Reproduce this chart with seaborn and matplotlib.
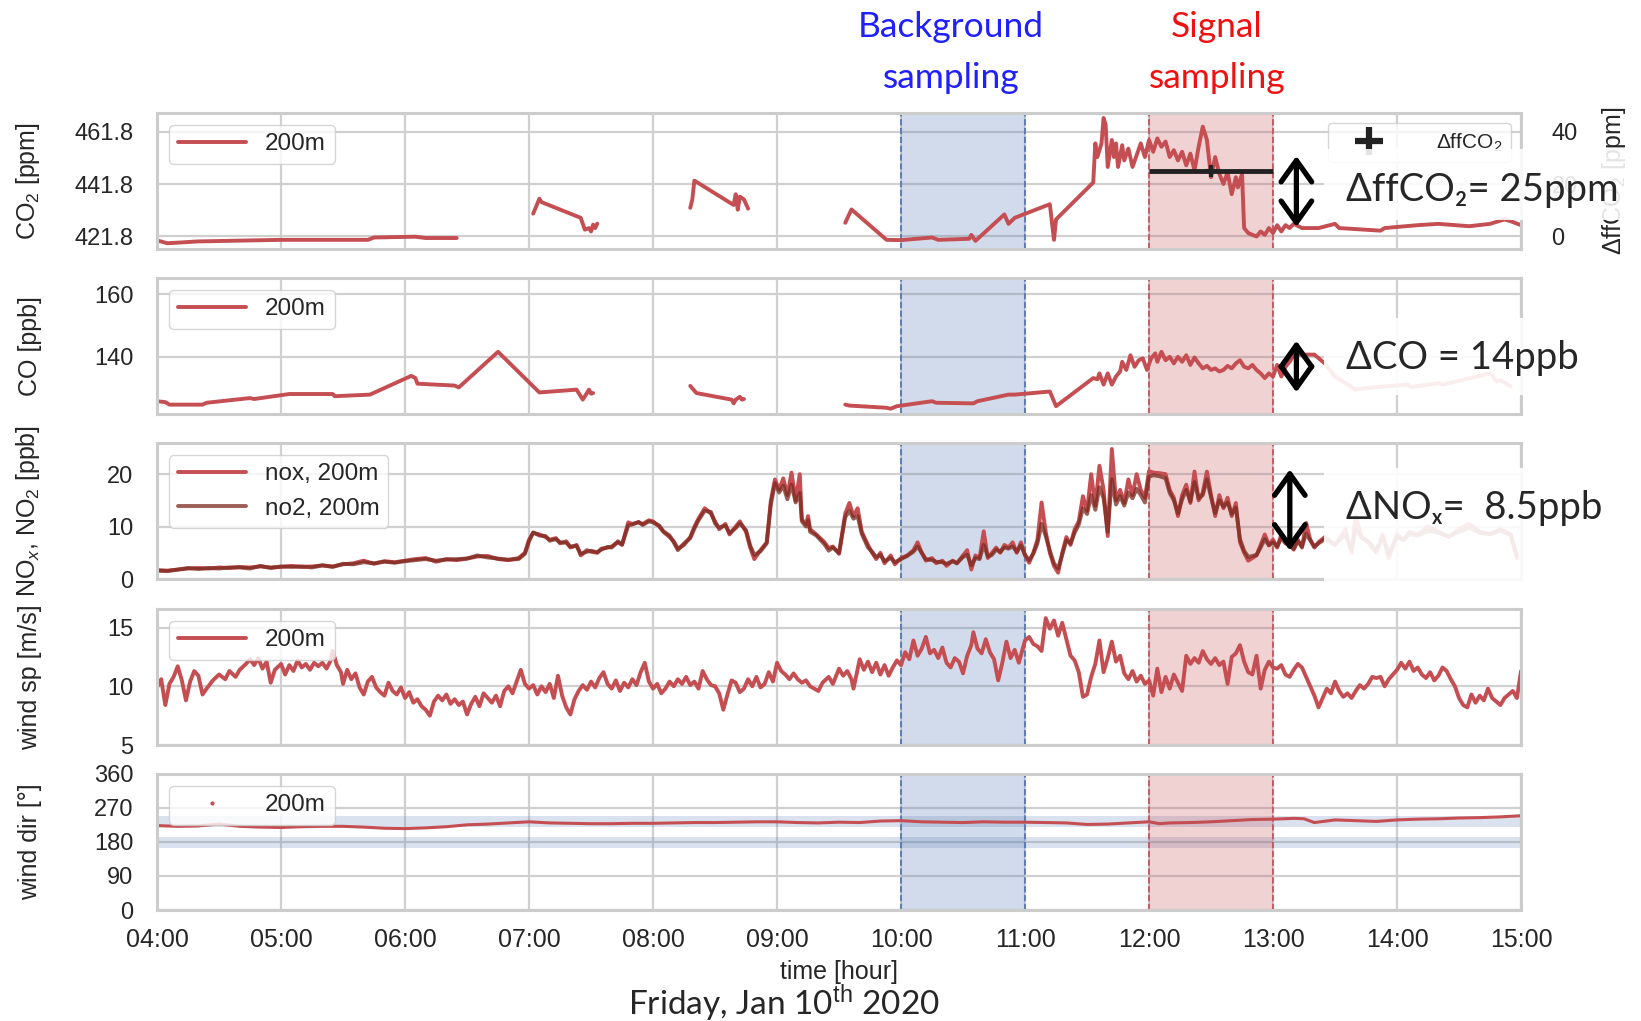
import numpy as np
import pandas as pd
import seaborn as sns
import matplotlib.pyplot as plt
import matplotlib.dates as mdates
from matplotlib.lines import Line2D
from matplotlib.patches import Rectangle, FancyArrowPatch

DAY = "2020-01-10 "
NAN = np.nan

# CO2 [ppm] (nan = gap)
co2_time = ["04:00", "04:05", "04:20", "05:00", "05:25", "05:42", "05:45", "06:05", "06:10", "06:25",
            "06:40",
            "07:02", "07:05", "07:06", "07:25", "07:27", "07:29", "07:30", "07:31", "07:32", "07:33",
            "08:00",
            "08:18", "08:19", "08:20", "08:39", "08:40", "08:41", "08:42", "08:44", "08:46",
            "09:10",
            "09:33", "09:36", "09:53", "10:00", "10:15", "10:18", "10:33", "10:34", "10:36", "10:50",
            "10:52", "10:55", "11:12", "11:14", "11:15", "11:33", "11:34", "11:35", "11:37", "11:38",
            "11:39", "11:40", "11:42", "11:43", "11:44", "11:45", "11:47", "11:48", "11:50", "11:52",
            "11:54", "11:56", "11:58", "12:00", "12:02", "12:04", "12:06", "12:08", "12:10", "12:12",
            "12:14", "12:16", "12:18", "12:20", "12:22", "12:24", "12:26", "12:28", "12:30", "12:32",
            "12:34", "12:36", "12:38", "12:40", "12:42", "12:43", "12:45", "12:46", "12:48", "12:50",
            "12:52", "12:54", "12:56", "12:58", "13:00", "13:02", "13:04", "13:06", "13:08", "13:10",
            "13:14", "13:22", "13:30", "13:32", "13:52", "13:54", "14:10", "14:20", "14:35", "14:45",
            "14:52", "14:55", "15:00"]
co2_val = [420.3, 419.2, 419.9, 420.5, 420.5, 420.5, 421.4, 421.7, 421.2, 421.2,
           NAN,
           430.5, 436.2, 434.9, 428.9, 424.4, 425.0, 423.7, 426.3, 425.0, 426.7,
           NAN,
           432.7, 435.9, 443.1, 433.8, 437.9, 432.0, 437.0, 435.9, 432.4,
           NAN,
           427.0, 432.1, 420.5, 420.4, 421.4, 420.5, 420.9, 422.4, 420.1, 430.2,
           426.6, 428.9, 434.1, 420.5, 428.3, 442.4, 457.3, 452.1, 457.3, 467.0,
           464.4, 448.3, 458.6, 452.1, 457.3, 448.3, 456.6, 450.8, 455.3, 448.3,
           452.8, 457.3, 452.1, 458.6, 454.1, 459.2, 456.0, 458.0, 452.1, 454.7,
           450.8, 454.1, 448.9, 453.4, 447.0, 456.0, 463.7, 458.6, 444.4, 452.1,
           445.7, 441.8, 446.3, 437.9, 444.4, 440.5, 445.7, 425.0, 423.1, 422.4,
           421.8, 423.7, 422.4, 425.0, 423.1, 426.1, 423.7, 426.1, 425.0, 426.6,
           425.0, 425.0, 426.6, 425.0, 424.0, 425.0, 426.1, 426.6, 425.7, 426.6,
           428.3, 427.6, 426.1]

# CO [ppb]
co_time = ["04:00", "04:04", "04:06", "04:22", "04:24", "04:45", "04:47", "05:04", "05:25", "05:26",
           "05:43", "06:03", "06:05", "06:06", "06:24", "06:26", "06:45", "07:05", "07:23", "07:26",
           "07:28", "07:29", "07:30", "07:31",
           "07:50",
           "08:18", "08:21", "08:38", "08:39", "08:40", "08:42", "08:43", "08:44",
           "09:00",
           "09:33", "09:35", "09:53", "09:55", "09:58", "10:15", "10:17", "10:35", "10:37", "10:52",
           "10:55", "11:12", "11:15", "11:33", "11:35", "11:36", "11:38", "11:40", "11:42", "11:44",
           "11:46", "11:47", "11:49", "11:51", "11:53", "11:55", "11:57", "11:59", "12:01", "12:03",
           "12:04", "12:06", "12:08", "12:10", "12:12", "12:14", "12:16", "12:18", "12:20", "12:22",
           "12:24", "12:26", "12:28", "12:30", "12:32", "12:34", "12:36", "12:38", "12:40", "12:42",
           "12:44", "12:46", "12:48", "12:50", "12:52", "12:54", "12:56", "12:58", "13:00", "13:02",
           "13:04", "13:06", "13:08", "13:10", "13:12", "13:20", "13:25", "13:30", "13:40", "13:45",
           "14:05", "14:07", "14:20", "14:22", "14:45", "14:46", "14:48", "14:50", "14:55"]
co_val = [125.8, 125.5, 124.7, 124.7, 125.3, 126.8, 126.5, 128.1, 128.1, 127.4,
          127.9, 133.9, 133.2, 131.4, 130.8, 130.2, 141.6, 128.6, 129.5, 126.3,
          128.4, 129.5, 128.2, 128.4,
          NAN,
          130.7, 128.4, 126.3, 125.1, 126.3, 127.2, 126.3, 126.5,
          NAN,
          124.7, 124.4, 123.7, 123.4, 124.2, 125.8, 125.3, 125.1, 125.8, 127.9,
          127.9, 128.9, 124.2, 133.2, 132.8, 134.7, 131.1, 134.7, 131.1, 133.7,
          135.3, 138.4, 135.8, 140.5, 136.8, 138.9, 139.5, 135.8, 139.5, 141.1,
          138.4, 141.6, 138.9, 140.0, 137.9, 140.0, 138.4, 140.5, 137.4, 139.8,
          137.9, 136.3, 137.1, 135.8, 136.3, 135.3, 135.8, 137.1, 136.3, 137.9,
          138.9, 136.8, 136.3, 137.4, 135.8, 134.7, 133.2, 134.7, 133.7, 137.4,
          133.7, 136.8, 138.4, 140.5, 140.7, 140.7, 137.9, 133.7, 129.5, 130.0,
          131.1, 130.3, 131.6, 131.1, 134.7, 134.2, 132.1, 132.6, 130.5]

# NOx / NO2 [ppb]
nox_time = ["04:00", "04:05", "04:10", "04:15", "04:20", "04:25", "04:30", "04:35", "04:40", "04:45",
            "04:50", "04:55", "05:00", "05:05", "05:10", "05:15", "05:20", "05:25", "05:30", "05:35",
            "05:40", "05:45", "05:50", "05:55", "06:00", "06:05", "06:10", "06:15", "06:20", "06:25",
            "06:30", "06:35", "06:40", "06:45", "06:50", "06:55", "06:58", "07:00", "07:02", "07:05",
            "07:08", "07:10", "07:13", "07:15", "07:18", "07:20", "07:23", "07:25", "07:28", "07:30",
            "07:33", "07:35", "07:38", "07:40", "07:43", "07:45", "07:48", "07:50", "07:53", "07:55",
            "07:58", "08:00", "08:03", "08:05", "08:08", "08:10", "08:12", "08:15", "08:18", "08:20",
            "08:22", "08:25", "08:28", "08:30", "08:32", "08:35", "08:37", "08:40", "08:42", "08:45",
            "08:47", "08:49", "08:52", "08:55", "08:57", "08:59", "09:01", "09:03", "09:05", "09:07",
            "09:09", "09:11", "09:12", "09:14", "09:15", "09:16", "09:19", "09:23", "09:25", "09:27",
            "09:30", "09:33", "09:35", "09:37", "09:39", "09:41", "09:44", "09:46", "09:48", "09:50",
            "09:52", "09:55", "09:57", "10:00", "10:03", "10:06", "10:08", "10:10", "10:12", "10:15",
            "10:17", "10:20", "10:22", "10:25", "10:27", "10:30", "10:32", "10:34", "10:36", "10:38",
            "10:40", "10:42", "10:44", "10:46", "10:48", "10:50", "10:52", "10:54", "10:56", "10:58",
            "11:00", "11:02", "11:04", "11:06", "11:08", "11:10", "11:12", "11:14", "11:16", "11:18",
            "11:20", "11:22", "11:24", "11:26", "11:28", "11:30", "11:32", "11:34", "11:36", "11:38",
            "11:40", "11:42", "11:44", "11:46", "11:48", "11:50", "11:52", "11:54", "11:56", "11:58",
            "12:00", "12:02", "12:05", "12:08", "12:10", "12:12", "12:14", "12:16", "12:18", "12:20",
            "12:22", "12:24", "12:26", "12:28", "12:30", "12:32", "12:34", "12:36", "12:38", "12:40",
            "12:42", "12:44", "12:46", "12:48", "12:50", "12:52", "12:54", "12:56", "12:58", "13:00",
            "13:02", "13:04", "13:06", "13:08", "13:10", "13:12", "13:14", "13:16", "13:18", "13:20",
            "13:22", "13:25", "13:30", "13:35", "13:38", "13:40", "13:43", "13:46", "13:50", "13:53",
            "13:56", "14:00", "14:03", "14:06", "14:10", "14:15", "14:20", "14:25", "14:30", "14:35",
            "14:40", "14:45", "14:50", "14:55", "14:58"]
nox_val = [1.7, 1.6, 1.8, 2.0, 2.1, 2.0, 2.2, 2.1, 2.3, 2.2,
           2.4, 2.2, 2.3, 2.5, 2.3, 2.4, 2.6, 2.4, 2.8, 3.0,
           3.5, 2.9, 3.4, 3.2, 3.5, 3.8, 4.0, 3.3, 3.8, 3.6,
           3.9, 4.3, 4.4, 3.8, 3.6, 4.0, 5.0, 7.5, 8.8, 8.5,
           8.0, 7.5, 7.8, 6.8, 7.2, 6.0, 6.5, 4.5, 5.5, 5.2,
           5.0, 5.8, 6.0, 6.2, 7.0, 6.5, 10.8, 10.5, 10.8, 10.5,
           11.2, 11.0, 10.0, 9.0, 8.0, 7.2, 5.8, 6.5, 8.0, 10.0,
           11.5, 13.5, 12.5, 11.0, 9.5, 10.5, 8.5, 10.0, 11.0, 9.0,
           6.0, 3.8, 5.5, 7.0, 15.0, 19.0, 17.0, 19.2, 16.0, 20.3,
           15.0, 20.0, 11.4, 10.4, 12.0, 9.5, 8.5, 7.0, 5.9, 6.2,
           4.8, 12.5, 14.5, 12.0, 13.5, 9.0, 6.5, 5.0, 3.8, 5.0,
           3.0, 4.5, 2.8, 4.0, 4.5, 5.5, 7.0, 5.0, 3.5, 4.0,
           3.0, 3.5, 2.5, 3.5, 3.0, 4.5, 5.5, 1.8, 4.5, 4.0,
           9.1, 4.0, 5.0, 6.0, 5.0, 6.5, 6.0, 7.0, 5.0, 7.0,
           4.5, 3.1, 5.0, 7.5, 14.6, 9.0, 5.0, 2.5, 1.2, 5.0,
           8.0, 6.5, 9.5, 11.0, 15.8, 13.0, 20.0, 14.0, 21.6, 17.0,
           8.2, 24.8, 15.0, 17.0, 14.5, 19.0, 16.0, 20.0, 17.0, 15.5,
           20.6, 20.3, 20.2, 20.0, 17.0, 15.5, 12.0, 16.0, 18.0, 14.5,
           20.5, 15.0, 16.5, 20.5, 16.0, 12.0, 16.0, 13.5, 15.5, 12.0,
           14.5, 7.0, 5.0, 3.5, 4.0, 4.5, 6.5, 8.5, 6.5, 7.5,
           6.0, 8.5, 7.0, 6.5, 5.6, 7.5, 6.0, 10.7, 7.5, 6.0,
           7.0, 8.0, 6.5, 9.5, 5.0, 12.0, 8.0, 7.0, 5.0, 8.5,
           4.0, 8.5, 7.5, 9.0, 8.5, 10.0, 9.0, 8.0, 9.5, 10.5,
           9.0, 8.5, 9.5, 8.5, 4.0]
no2_val = [1.6, 1.5, 1.8, 2.1, 1.9, 2.1, 2.0, 2.2, 2.2, 2.0,
           2.5, 2.1, 2.4, 2.3, 2.4, 2.2, 2.6, 2.3, 2.9, 2.8,
           3.2, 3.0, 3.3, 3.1, 3.4, 3.6, 3.8, 3.5, 3.7, 3.8,
           3.9, 4.5, 4.1, 3.9, 3.7, 3.8, 4.8, 7.2, 8.9, 8.3,
           8.2, 7.3, 7.6, 7.0, 6.9, 6.2, 6.3, 4.8, 5.2, 5.4,
           5.1, 5.6, 6.1, 6.0, 7.2, 6.6, 10.2, 10.4, 10.9, 10.3,
           11.0, 10.8, 10.2, 9.1, 8.3, 7.0, 5.5, 6.8, 7.8, 9.6,
           11.2, 13.0, 12.8, 10.6, 9.8, 10.2, 8.8, 9.7, 10.6, 9.3,
           6.4, 4.6, 5.3, 6.8, 14.2, 18.3, 16.5, 17.8, 15.2, 18.0,
           14.6, 16.4, 11.0, 10.0, 11.2, 9.0, 8.3, 6.6, 5.4, 6.0,
           5.0, 11.8, 13.0, 11.5, 12.0, 8.6, 6.0, 5.2, 4.2, 4.6,
           3.4, 4.0, 3.2, 3.8, 4.4, 5.2, 6.2, 5.0, 3.8, 3.6,
           3.3, 3.2, 2.9, 3.4, 3.0, 4.2, 4.6, 2.6, 4.0, 3.8,
           6.5, 4.3, 4.6, 5.6, 5.2, 6.0, 5.8, 6.2, 5.2, 6.4,
           4.6, 3.6, 4.8, 6.8, 10.5, 8.2, 5.4, 3.0, 2.0, 4.6,
           7.4, 6.8, 8.8, 10.4, 13.5, 12.4, 16.0, 13.2, 17.5, 15.4,
           9.0, 19.0, 14.2, 15.8, 14.0, 16.5, 15.4, 17.2, 16.0, 14.6,
           19.5, 19.8, 19.6, 19.2, 16.4, 15.0, 12.5, 15.2, 17.0, 14.8,
           18.5, 15.4, 16.0, 19.0, 15.6, 12.6, 15.0, 13.8, 14.6, 12.4,
           13.6, 7.6, 5.4, 4.2, 4.4, 4.6, 6.0, 7.6, 6.4, 7.0,
           6.2, 7.8, 6.8, 6.4, 5.8, 7.2, 6.2, 8.6, 7.4, 6.2,
           6.8, 7.6, 6.6, 8.4, 5.6, 9.5, 7.8, 7.2, 5.6, 8.0,
           4.8, 8.0, 7.4, 8.6, 8.2, 9.2, 8.8, 8.2, 9.0, 9.8,
           8.8, 8.6, 9.2, 8.4, 4.6]

# wind speed [m/s]
ws_time = ["04:00", "04:02", "04:04", "04:06", "04:08", "04:10", "04:12", "04:14", "04:16", "04:18",
           "04:20", "04:22", "04:24", "04:27", "04:30", "04:33", "04:35", "04:38", "04:40", "04:43",
           "04:45", "04:47", "04:49", "04:51", "04:53", "04:55", "04:57", "05:00", "05:02", "05:04",
           "05:06", "05:08", "05:10", "05:12", "05:14", "05:16", "05:18", "05:20", "05:22", "05:24",
           "05:25", "05:27", "05:29", "05:30", "05:32", "05:34", "05:36", "05:38", "05:40", "05:42",
           "05:44", "05:46", "05:48", "05:50", "05:52", "05:54", "05:56", "05:58", "06:00", "06:02",
           "06:04", "06:06", "06:08", "06:10", "06:12", "06:14", "06:16", "06:18", "06:20", "06:22",
           "06:24", "06:26", "06:28", "06:30", "06:32", "06:34", "06:36", "06:38", "06:40", "06:42",
           "06:44", "06:46", "06:48", "06:50", "06:52", "06:54", "06:56", "06:58", "07:00", "07:02",
           "07:04", "07:06", "07:08", "07:10", "07:12", "07:14", "07:16", "07:18", "07:20", "07:22",
           "07:24", "07:26", "07:28", "07:30", "07:32", "07:34", "07:36", "07:38", "07:40", "07:42",
           "07:44", "07:46", "07:48", "07:50", "07:52", "07:54", "07:56", "07:58", "08:00", "08:02",
           "08:04", "08:06", "08:08", "08:10", "08:12", "08:14", "08:16", "08:18", "08:20", "08:22",
           "08:24", "08:26", "08:28", "08:30", "08:32", "08:34", "08:36", "08:38", "08:40", "08:42",
           "08:44", "08:46", "08:48", "08:50", "08:52", "08:54", "08:56", "08:58", "09:00", "09:02",
           "09:04", "09:06", "09:08", "09:10", "09:12", "09:14", "09:16", "09:18", "09:20", "09:22",
           "09:25", "09:27", "09:30", "09:32", "09:34", "09:36", "09:37", "09:40", "09:42", "09:44",
           "09:46", "09:48", "09:50", "09:52", "09:54", "09:56", "09:58", "10:00", "10:02", "10:04",
           "10:06", "10:08", "10:10", "10:12", "10:14", "10:16", "10:18", "10:20", "10:22", "10:24",
           "10:26", "10:28", "10:30", "10:32", "10:34", "10:35", "10:37", "10:39", "10:41", "10:43",
           "10:45", "10:47", "10:49", "10:51", "10:53", "10:55", "10:57", "11:00", "11:02", "11:04",
           "11:06", "11:08", "11:10", "11:12", "11:14", "11:16", "11:18", "11:20", "11:22", "11:24",
           "11:26", "11:28", "11:30", "11:32", "11:34", "11:36", "11:38", "11:40", "11:42", "11:44",
           "11:46", "11:48", "11:50", "11:52", "11:54", "11:56", "11:58", "12:00", "12:02", "12:04",
           "12:06", "12:08", "12:10", "12:12", "12:14", "12:16", "12:18", "12:20", "12:22", "12:24",
           "12:26", "12:28", "12:30", "12:32", "12:34", "12:36", "12:38", "12:40", "12:42", "12:44",
           "12:46", "12:48", "12:50", "12:52", "12:54", "12:56", "12:58", "13:00", "13:02", "13:04",
           "13:06", "13:08", "13:10", "13:12", "13:14", "13:16", "13:18", "13:20", "13:22", "13:24",
           "13:26", "13:28", "13:30", "13:32", "13:34", "13:36", "13:38", "13:40", "13:42", "13:44",
           "13:46", "13:48", "13:50", "13:52", "13:54", "13:56", "13:58", "14:00", "14:02", "14:04",
           "14:06", "14:08", "14:10", "14:12", "14:14", "14:16", "14:18", "14:20", "14:22", "14:24",
           "14:26", "14:28", "14:30", "14:32", "14:34", "14:36", "14:38", "14:40", "14:42", "14:44",
           "14:46", "14:48", "14:50", "14:52", "14:54", "14:56", "14:58", "15:00"]
ws_val = [9.9, 10.6, 8.4, 10.2, 10.8, 11.7, 10.5, 8.8, 10.4, 11.3,
          10.9, 9.3, 9.8, 10.5, 11.0, 10.6, 11.3, 10.8, 11.4, 11.9,
          12.3, 11.8, 12.4, 11.5, 12.1, 10.3, 11.4, 11.9, 11.0, 11.8,
          11.3, 12.2, 11.6, 11.9, 11.4, 12.0, 11.7, 12.0, 11.5, 12.2,
          13.0, 11.8, 11.2, 10.2, 11.4, 10.6, 11.1, 9.9, 9.3, 10.4,
          10.8, 9.9, 9.5, 9.2, 10.3, 9.6, 9.3, 9.9, 9.0, 9.5,
          8.6, 8.9, 8.3, 8.0, 7.5, 8.7, 9.2, 8.8, 9.3, 8.5,
          8.9, 8.4, 8.7, 7.6, 8.5, 9.1, 8.3, 9.4, 9.0, 8.6,
          9.2, 8.3, 9.6, 10.0, 9.4, 10.4, 11.4, 10.2, 9.8, 10.1,
          9.3, 10.0, 9.5, 10.2, 9.0, 10.9, 9.2, 8.2, 7.6, 8.9,
          9.6, 10.1, 9.7, 10.4, 9.9, 10.7, 11.2, 10.2, 9.8, 10.5,
          9.6, 10.3, 9.9, 10.6, 10.1, 11.2, 12.0, 10.4, 9.8, 10.2,
          9.4, 9.8, 10.4, 10.0, 10.6, 10.2, 10.8, 10.1, 10.4, 9.8,
          11.3, 10.6, 10.1, 10.0, 9.4, 8.0, 9.3, 10.5, 10.3, 9.5,
          9.8, 10.6, 10.0, 10.8, 9.9, 10.2, 11.2, 10.4, 12.0, 11.3,
          11.0, 10.6, 11.1, 10.6, 10.3, 10.5, 10.0, 9.8, 9.6, 10.3,
          10.8, 10.2, 11.5, 10.9, 11.3, 10.6, 9.8, 12.3, 11.4, 12.1,
          11.2, 12.0, 11.0, 11.8, 10.9, 11.6, 12.2, 11.8, 12.9, 12.3,
          13.9, 12.6, 13.2, 14.2, 12.8, 13.1, 12.4, 13.3, 12.0, 11.6,
          12.4, 12.1, 11.1, 12.6, 13.5, 14.6, 13.2, 12.8, 14.0, 12.9,
          12.3, 10.5, 12.0, 13.8, 12.4, 13.1, 12.0, 13.9, 14.2, 13.6,
          13.4, 13.0, 15.8, 14.9, 15.6, 14.3, 15.4, 14.0, 12.6, 12.2,
          11.2, 9.1, 9.3, 10.8, 11.9, 13.9, 11.2, 12.4, 13.8, 12.1,
          12.6, 11.1, 10.6, 11.3, 10.4, 10.9, 10.2, 10.5, 9.2, 11.5,
          9.5, 10.8, 9.8, 11.0, 10.3, 9.6, 12.6, 11.9, 12.4, 12.0,
          13.0, 12.3, 11.9, 12.4, 11.8, 12.1, 10.2, 12.5, 12.8, 13.5,
          12.1, 11.2, 11.0, 12.6, 9.8, 11.4, 12.1, 11.6, 11.5, 11.8,
          11.0, 10.8, 11.4, 11.9, 11.6, 10.8, 10.0, 9.2, 8.2, 9.0,
          9.8, 9.4, 10.4, 9.6, 9.1, 9.4, 9.0, 9.6, 10.1, 9.8,
          10.2, 10.8, 10.7, 10.8, 10.0, 10.6, 11.0, 11.4, 12.0, 11.5,
          12.1, 11.3, 11.6, 11.0, 10.7, 11.2, 10.5, 10.9, 11.6, 11.3,
          10.6, 10.0, 9.0, 8.4, 8.2, 9.3, 8.6, 9.2, 8.8, 9.8,
          9.0, 8.7, 8.4, 9.0, 9.3, 9.6, 9.0, 11.3]

# wind direction [deg]
wd_time = ["04:00", "04:10", "04:20", "04:30", "04:40", "04:50", "05:00", "05:10", "05:20", "05:30",
           "05:40", "05:50", "06:00", "06:10", "06:20", "06:30", "06:40", "06:50", "07:00", "07:10",
           "07:20", "07:30", "07:40", "07:50", "08:00", "08:10", "08:20", "08:30", "08:40", "08:50",
           "09:00", "09:10", "09:20", "09:30", "09:40", "09:50", "10:00", "10:10", "10:20", "10:30",
           "10:40", "10:50", "11:00", "11:10", "11:20", "11:30", "11:40", "11:50", "12:00", "12:05",
           "12:10", "12:20", "12:30", "12:40", "12:50", "13:00", "13:10", "13:15", "13:20", "13:30",
           "13:40", "13:50", "14:00", "14:10", "14:20", "14:30", "14:40", "14:50", "15:00"]
wd_val = [223, 221, 222, 227, 221, 219, 218, 220, 221, 221,
          219, 216, 215, 217, 220, 225, 227, 230, 233, 230,
          229, 228, 228, 229, 229, 230, 231, 231, 232, 233,
          233, 231, 230, 232, 231, 235, 236, 233, 232, 231,
          233, 232, 232, 231, 230, 226, 227, 230, 233, 228,
          230, 231, 233, 236, 239, 240, 242, 241, 231, 238,
          236, 234, 238, 240, 241, 243, 244, 246, 249]
wd_bands = [(219, 248), (165, 194)]

# annotations
delta_ffco2 = 25
delta_text = ["ΔffCO₂= 25ppm", "ΔCO = 14ppb", "ΔNOₓ=  8.5ppb"]
bg_win = ("10:00", "11:00")
sig_win = ("12:00", "13:00")

RED = "#c44e52"
BLUE = "#4c72b0"
NO2_C = "#7a2a20"
LW = 2.8


def tt(s):
    return pd.Timestamp(DAY + s)


def seg_df(times, vals):
    df = pd.DataFrame({"t": pd.to_datetime([DAY + s for s in times]), "v": vals})
    df["seg"] = df["v"].isna().cumsum()
    return df.dropna()


sns.set_theme(style="whitegrid")
plt.rcParams["font.family"] = ["Liberation Sans", "DejaVu Sans"]
plt.rcParams["mathtext.fontset"] = "custom"
plt.rcParams["mathtext.rm"] = "Liberation Sans"
plt.rcParams["mathtext.it"] = "Liberation Sans:italic"
plt.rcParams["grid.linewidth"] = 1.6
plt.rcParams["grid.color"] = "#d0d0d0"

TICK = 17
LAB = 18

fig = plt.figure(figsize=(16.41, 10.21), dpi=100)
bottoms = [0.7561, 0.5945, 0.4329, 0.2703, 0.1087]
axes = [fig.add_axes([0.0957, b, 0.8312, 0.1335]) for b in bottoms]
ax_co2, ax_co, ax_nox, ax_ws, ax_wd = axes

# CO2
d = seg_df(co2_time, co2_val)
sns.lineplot(data=d, x="t", y="v", units="seg", estimator=None, color=RED, lw=LW, ax=ax_co2)
ax_co2.set_ylim(417, 469)
ax_co2.set_yticks([421.8, 441.8, 461.8])
ax_co2.set_yticklabels(["421.8", "441.8", "461.8"])
ax_co2.set_ylabel("CO$_2$ [ppm]", fontsize=LAB)

# CO
d = seg_df(co_time, co_val)
sns.lineplot(data=d, x="t", y="v", units="seg", estimator=None, color=RED, lw=LW, ax=ax_co)
ax_co.set_ylim(121.7, 165.3)
ax_co.set_yticks([140, 160])
ax_co.set_ylabel("CO [ppb]", fontsize=LAB)

# NOx / NO2
d = pd.DataFrame({"t": pd.to_datetime([DAY + s for s in nox_time]), "nox": nox_val, "no2": no2_val})
sns.lineplot(data=d, x="t", y="nox", color=RED, lw=LW, ax=ax_nox)
sns.lineplot(data=d, x="t", y="no2", color=NO2_C, lw=LW, alpha=0.75, ax=ax_nox)
ax_nox.set_ylim(0, 26)
ax_nox.set_yticks([0, 10, 20])
ax_nox.set_ylabel("NO$_x$, NO$_2$ [ppb]", fontsize=LAB)

# wind speed
d = pd.DataFrame({"t": pd.to_datetime([DAY + s for s in ws_time]), "v": ws_val})
sns.lineplot(data=d, x="t", y="v", color=RED, lw=LW, ax=ax_ws)
ax_ws.set_ylim(5, 16.6)
ax_ws.set_yticks([5, 10, 15])
ax_ws.set_ylabel("wind sp [m/s]", fontsize=LAB)

# wind direction
for lo, hi in wd_bands:
    ax_wd.axhspan(lo, hi, color=BLUE, alpha=0.2, lw=0, zorder=0.6)
d = pd.DataFrame({"t": pd.to_datetime([DAY + s for s in wd_time]), "v": wd_val})
sns.lineplot(data=d, x="t", y="v", color=RED, lw=2.2, ax=ax_wd)
ax_wd.set_ylim(0, 360)
ax_wd.set_yticks([0, 90, 180, 270, 360])
ax_wd.set_ylabel("wind dir [°]", fontsize=LAB)

for ax in axes:
    ax.set_xlim(tt("04:00"), tt("15:00"))
    ax.xaxis.set_major_locator(mdates.HourLocator())
    ax.xaxis.set_major_formatter(mdates.DateFormatter("%H:%M"))
    ax.axvspan(tt(bg_win[0]), tt(bg_win[1]), color=BLUE, alpha=0.25, lw=0, zorder=0.7)
    ax.axvspan(tt(sig_win[0]), tt(sig_win[1]), color=RED, alpha=0.25, lw=0, zorder=0.7)
    for s in bg_win:
        ax.axvline(tt(s), color=BLUE, ls="--", lw=1.2, zorder=0.8)
    for s in sig_win:
        ax.axvline(tt(s), color=RED, ls="--", lw=1.2, zorder=0.8)
    ax.tick_params(axis="y", labelsize=TICK, length=0, pad=17, labelcolor=".15")
    ax.tick_params(axis="x", labelsize=18, length=0, pad=13, labelcolor=".15")
    ax.set_xlabel("")
    ax.yaxis.set_label_coords(-0.084, 0.5)
    for sp in ax.spines.values():
        sp.set_color("#cccccc")
        sp.set_linewidth(2.2)
    if ax is not ax_wd:
        ax.tick_params(axis="x", labelbottom=False)

ax_wd.set_xlabel("time [hour]", fontsize=LAB, color=".15")
ax_wd.xaxis.set_label_coords(0.5, -0.37)

# legends
leg_kw = dict(loc="upper left", fontsize=17.5, handlelength=2.8, frameon=True, facecolor="white",
              edgecolor="#cccccc", borderpad=0.35)
for ax in [ax_co2, ax_co, ax_ws]:
    ax.legend(handles=[Line2D([], [], color=RED, lw=LW)], labels=["200m"], **leg_kw)
ax_nox.legend(handles=[Line2D([], [], color=RED, lw=LW), Line2D([], [], color=NO2_C, alpha=0.75, lw=LW)],
              labels=["nox, 200m", "no2, 200m"], **leg_kw)
ax_wd.legend(handles=[Line2D([], [], color=RED, marker=".", ms=4, ls="none")], labels=["200m"], **leg_kw)

# twin axis with the signal estimate
ax2 = ax_co2.twinx()
ax2.set_ylim(-4.8, 47.2)
ax2.set_yticks([0, 20, 40])
ax2.grid(False)
ax2.errorbar(mdates.date2num(tt("12:30")), delta_ffco2, xerr=0.5 / 24, fmt="+", color="#222222",
             ms=8, mew=3, elinewidth=3.5, zorder=5)
ax2.tick_params(axis="y", labelsize=TICK, length=0, pad=22, labelcolor=".15")
ax2.set_ylabel("ΔffCO$_2$ [ppm]", fontsize=LAB)
ax2.yaxis.set_label_coords(1.058, 0.5)
for sp in ax2.spines.values():
    sp.set_visible(False)
ax2.legend(handles=[Line2D([], [], marker="+", color="#222222", ls="none", ms=20, mew=4.5)],
           labels=["ΔffCO$_2$"], loc="upper right", fontsize=15, handlelength=3.2, handletextpad=1.6,
           frameon=True, facecolor="white", edgecolor="#cccccc")

# overlay boxes, arrows and texts
for y0, y1, a in [(0.785, 0.854, 0.88), (0.613, 0.689, 0.9), (0.429, 0.542, 0.9)]:
    fig.add_artist(Rectangle((0.807, y0), 0.2, y1 - y0, transform=fig.transFigure,
                             facecolor="white", edgecolor="none", alpha=a, zorder=4))

for x, y0, y1 in [(0.790, 0.775, 0.850), (0.790, 0.613, 0.669), (0.786, 0.458, 0.543)]:
    fig.add_artist(FancyArrowPatch((x, y0), (x, y1), transform=fig.transFigure,
                                   arrowstyle="<->,head_length=0.7,head_width=0.5",
                                   mutation_scale=22, lw=3.8, color="black", zorder=6))

OVER = ["Lato", "DejaVu Sans"]
for txt, y in zip(delta_text, [0.814, 0.649, 0.502]):
    fig.text(0.820, y, txt, fontsize=27.5, family=OVER, ha="left", va="center", zorder=7)

fig.text(0.5795, 0.964, "Background", fontsize=25.5, family=OVER, color="#1f1fff", ha="center", va="baseline")
fig.text(0.5795, 0.914, "sampling", fontsize=25.5, family=OVER, color="#1f1fff", ha="center", va="baseline")
fig.text(0.7416, 0.964, "Signal", fontsize=25.5, family=OVER, color="#ee1111", ha="center", va="baseline")
fig.text(0.7416, 0.914, "sampling", fontsize=25.5, family=OVER, color="#ee1111", ha="center", va="baseline")
fig.text(0.478, 0.006, "Friday, Jan 10$^{\\rm th}$ 2020", fontsize=24, family=OVER, ha="center", va="baseline")

fig.savefig("out.png", dpi=100)
